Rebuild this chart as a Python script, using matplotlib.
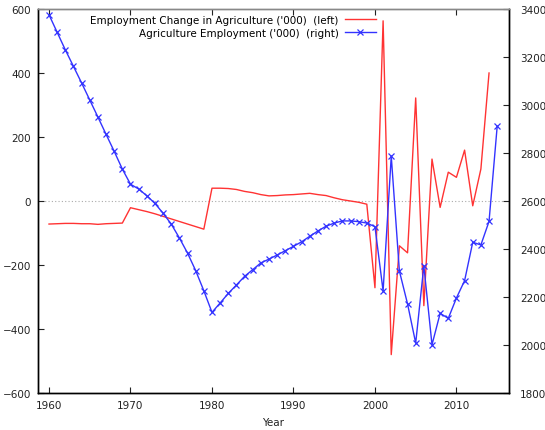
import matplotlib
matplotlib.use("Agg")
import matplotlib.pyplot as plt
from matplotlib.ticker import MultipleLocator

years_change = list(range(1960, 2015))
emp_change = [-72, -71, -70, -70, -71, -71, -73, -71, -70, -69,
              -21, -27, -33, -40, -48, -56, -64, -72, -80, -88,
              40, 40, 39, 36, 30, 26, 20, 16, 17, 19,
              20, 22, 24, 20, 17, 10, 4, 0, -4, -10,
              -271, 563, -480, -140, -162, 322, -327, 131, -20, 90,
              74, 159, -15, 100, 400]

years_emp = list(range(1960, 2016))
employment = [3376, 3303, 3230, 3161, 3092, 3021, 2950, 2878, 2807, 2733,
              2670, 2650, 2622, 2590, 2549, 2504, 2446, 2383, 2310, 2226,
              2136, 2175, 2215, 2250, 2286, 2314, 2342, 2358, 2375, 2393,
              2411, 2430, 2453, 2475, 2495, 2508, 2517, 2517, 2514, 2508,
              2493, 2225, 2787, 2308, 2171, 2008, 2330, 2001, 2132, 2111,
              2196, 2268, 2428, 2417, 2515, 2911]

label_left = "Employment Change in Agriculture ('000)  (left)"
label_right = "Agriculture Employment ('000)  (right)"

plt.rcParams['font.family'] = ['DejaVu Sans']
fs = 7.5

fig = plt.figure(figsize=(5.45, 4.31), dpi=100)
ax = fig.add_axes([38/545, 1-394/431, (509-38)/545, (394-10)/431])
ax2 = ax.twinx()

l1, = ax.plot(years_change, emp_change, color='#ff3333', lw=1.0, label=label_left)
l2, = ax2.plot(years_emp, employment, color='#3333ff', lw=1.0, marker='x',
               markersize=4.8, markeredgewidth=0.9, label=label_right)

ax.axhline(0, color='#aaaaaa', lw=0.8, ls=(0, (1, 2)), zorder=0)

ax.set_xlim(1958.65, 2016.45)
ax.set_ylim(-600, 600)
ax2.set_ylim(1800, 3400)
ax.xaxis.set_major_locator(MultipleLocator(10))
ax.yaxis.set_major_locator(MultipleLocator(200))
ax2.yaxis.set_major_locator(MultipleLocator(200))

for a in (ax, ax2):
    a.tick_params(direction='in', length=4, width=0.8, labelsize=fs, colors='#222222')
ax.tick_params(axis='x', top=True, pad=5)
ax.tick_params(axis='y', pad=5)
ax2.tick_params(axis='y', pad=8)
for a in (ax, ax2):
    for s in ('left', 'bottom', 'right'):
        a.spines[s].set_color('black')
        a.spines[s].set_linewidth(1.0)
    a.spines['top'].set_color('#888888')
    a.spines['top'].set_linewidth(1.0)

ax.set_xlabel('Year', fontsize=fs, color='#222222', labelpad=5)

leg = ax2.legend([l1, l2], [label_left, label_right], loc='upper right',
                 bbox_to_anchor=(376/545, 1-16/431), bbox_transform=fig.transFigure,
                 frameon=False, markerfirst=False, fontsize=fs,
                 handlelength=3.0, handletextpad=0.6, labelspacing=0.25,
                 borderaxespad=0, borderpad=0)
for t in leg.get_texts():
    t.set_ha('right')
leg._legend_box.align = 'right'

fig.savefig('out.png', dpi=100)
